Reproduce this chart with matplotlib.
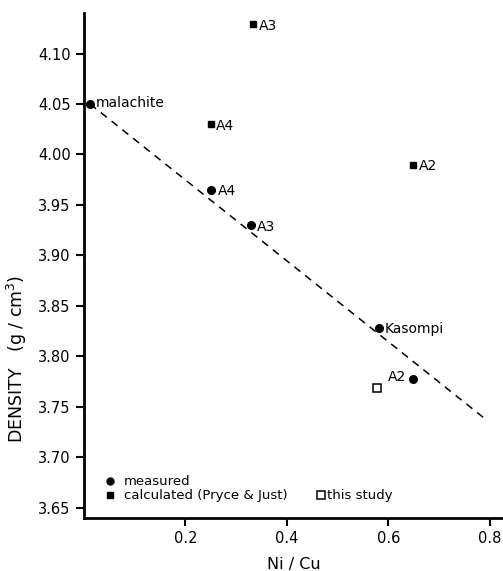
import matplotlib
matplotlib.use("Agg")
import matplotlib.pyplot as plt

# measured (circles)
meas_x = [0.012, 0.25, 0.33, 0.582, 0.649]
meas_y = [4.050, 3.965, 3.930, 3.828, 3.778]
meas_lab = ["malachite", "A4", "A3", "Kasompi", "A2"]
# calculated (Pryce & Just) squares
calc_x = [0.25, 0.333, 0.649]
calc_y = [4.030, 4.129, 3.990]
calc_lab = ["A4", "A3", "A2"]
# this study
this_x = [0.578]
this_y = [3.769]
# dashed trend line endpoints
trend_x = [0.012, 0.791]
trend_y = [4.050, 3.738]

xticks = [0.2, 0.4, 0.6, 0.8]
yticks = [3.65, 3.70, 3.75, 3.80, 3.85, 3.90, 3.95, 4.00, 4.05, 4.10]

fig = plt.figure(figsize=(5.03, 5.71), dpi=100)
ax = fig.add_axes([0.167, 0.093, 0.833, 0.884])
ax.set_xlim(0, 0.826)
ax.set_ylim(3.64, 4.14)

ax.plot(trend_x, trend_y, ls=(0, (5, 4)), color="black", lw=1.1, zorder=1)
ax.plot(meas_x, meas_y, "o", color="black", ms=5.5, zorder=3)
ax.plot(calc_x, calc_y, "s", color="black", ms=5, zorder=3)
ax.plot(this_x, this_y, "s", mfc="white", mec="black", mew=1.1, ms=6, zorder=3)

offsets = {"malachite": (4, 1, "left"), "A4": (5, -1, "left"), "A3": (4, -1, "left"),
           "Kasompi": (4, -1, "left"), "A2": (-5, 1, "right")}
for x, y, t in zip(meas_x, meas_y, meas_lab):
    dx, dy, ha = offsets[t]
    ax.annotate(t, (x, y), xytext=(dx, dy), textcoords="offset points",
                fontsize=10, va="center", ha=ha)
for x, y, t in zip(calc_x, calc_y, calc_lab):
    ax.annotate(t, (x, y), xytext=(4, -1), textcoords="offset points",
                fontsize=10, va="center", ha="left")

ax.set_xticks(xticks)
ax.set_xticklabels([f"{v:.1f}" for v in xticks], fontsize=10.5)
ax.set_yticks(yticks)
ax.set_yticklabels([f"{v:.2f}" for v in yticks], fontsize=10.5)
ax.tick_params(direction="out", length=6, width=1.5)
for s in ["top", "right"]:
    ax.spines[s].set_visible(False)
for s in ["left", "bottom"]:
    ax.spines[s].set_linewidth(2)

ax.set_xlabel("Ni / Cu", fontsize=11.5, labelpad=8)
fig.text(17 / 503, 1 - 359 / 571, "DENSITY   (g / cm$^3$)", fontsize=12.5,
         rotation=90, ha="center", va="center")

# legend text
ax.plot([0.051], [3.6762], "o", color="black", ms=5, clip_on=False)
ax.text(0.079, 3.6762, "measured", fontsize=9.5, va="center")
ax.plot([0.051], [3.6624], "s", color="black", ms=4.5, clip_on=False)
ax.text(0.079, 3.6624, "calculated (Pryce & Just)", fontsize=9.5, va="center")
ax.plot([0.467], [3.6624], "s", mfc="white", mec="black", mew=1.1, ms=5.5)
ax.text(0.479, 3.6624, "this study", fontsize=9.5, va="center")

fig.savefig("out.png", dpi=100)
